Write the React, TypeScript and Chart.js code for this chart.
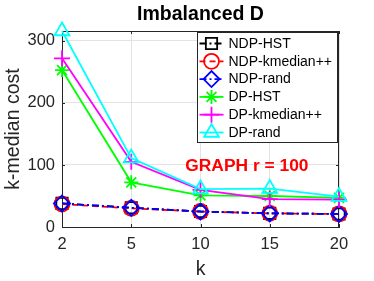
import React, { useEffect, useRef } from 'react';
import { Chart, registerables } from 'chart.js';
import { drawPoint } from 'chart.js/helpers';

Chart.register(...registerables);

const K_LABELS = ['2', '5', '10', '15', '20'];
const NDP_HST = [38, 31, 25, 22, 21];
const NDP_KMEDIAN = [37, 30, 25, 22, 21];
const NDP_RAND = [38, 31, 25, 22, 21];
const DP_HST = [253, 72, 51, 50, 47];
const DP_KMEDIAN = [272, 105, 60, 45, 44];
const DP_RAND = [316, 111, 61, 62, 49];
const Y_TICKS = [0, 100, 200, 300];
const Y_MIN = 0;
const Y_MAX = 316;
const TITLE = 'Imbalanced D';
const X_TITLE = 'k';
const Y_TITLE = 'k-median cost';
const NOTE_TEXT = 'GRAPH r = 100';
const NOTE_X = 2.67;
const NOTE_Y = 98;

const FONT = 'Liberation Sans, Arial, Helvetica, sans-serif';
const AXIS_COLOR = '#262626';

type Series = {
  name: string;
  data: number[];
  color: string;
  pointStyle: string;
  radius: number;
  dash: number[];
};

const SERIES: Series[] = [
  { name: 'NDP-HST', data: NDP_HST, color: '#000000', pointStyle: 'rect', radius: 8, dash: [7, 3, 2, 3] },
  { name: 'NDP-kmedian++', data: NDP_KMEDIAN, color: '#ff0000', pointStyle: 'circle', radius: 7.5, dash: [6, 4] },
  { name: 'NDP-rand', data: NDP_RAND, color: '#0000ff', pointStyle: 'rectRot', radius: 8, dash: [7, 3, 2, 3] },
  { name: 'DP-HST', data: DP_HST, color: '#00ff00', pointStyle: 'star', radius: 7, dash: [] },
  { name: 'DP-kmedian++', data: DP_KMEDIAN, color: '#ff00ff', pointStyle: 'cross', radius: 8, dash: [] },
  { name: 'DP-rand', data: DP_RAND, color: '#00ffff', pointStyle: 'triangle', radius: 8.5, dash: [] },
];

const LINE_W = 1.8;

const boxPlugin = {
  id: 'matlabBox',
  beforeDatasetsDraw(chart: any) {
    const { ctx, chartArea } = chart;
    const { left, right, top, bottom } = chartArea;
    ctx.save();
    ctx.strokeStyle = AXIS_COLOR;
    ctx.lineWidth = 1;
    ctx.beginPath();
    ctx.moveTo(left, top + 0.5);
    ctx.lineTo(right, top + 0.5);
    ctx.moveTo(right - 0.5, top);
    ctx.lineTo(right - 0.5, bottom);
    // inward ticks
    const xs = chart.scales.x;
    const ys = chart.scales.y;
    const tl = 3;
    K_LABELS.forEach((_, i) => {
      const px = Math.round(xs.getPixelForValue(i)) + 0.5;
      ctx.moveTo(px, bottom);
      ctx.lineTo(px, bottom - tl);
      ctx.moveTo(px, top);
      ctx.lineTo(px, top + tl);
    });
    Y_TICKS.forEach((v) => {
      const py = Math.round(ys.getPixelForValue(v)) + 0.5;
      ctx.moveTo(left, py);
      ctx.lineTo(left + tl, py);
      ctx.moveTo(right, py);
      ctx.lineTo(right - tl, py);
    });
    ctx.stroke();
    ctx.restore();
  },
};

const notePlugin = {
  id: 'note',
  afterDatasetsDraw(chart: any) {
    const { ctx } = chart;
    const x = chart.scales.x.getPixelForValue(NOTE_X);
    const y = chart.scales.y.getPixelForValue(NOTE_Y);
    ctx.save();
    ctx.font = `bold 17.4px ${FONT}`;
    ctx.fillStyle = '#ff0000';
    ctx.textAlign = 'center';
    ctx.textBaseline = 'middle';
    ctx.fillText(NOTE_TEXT, x, y);
    ctx.restore();
  },
};

const legendPlugin = {
  id: 'matlabLegend',
  afterDraw(chart: any) {
    const { ctx, chartArea } = chart;
    const w = 140;
    const h = 110;
    const left = Math.round(chartArea.right - 2 - w) + 0.5;
    const top = Math.round(chartArea.top + 1) + 0.5;
    ctx.save();
    ctx.fillStyle = '#ffffff';
    ctx.fillRect(left, top, w, h);
    ctx.strokeStyle = AXIS_COLOR;
    ctx.lineWidth = 1;
    ctx.strokeRect(left, top, w, h);
    const rowH = 17.8;
    SERIES.forEach((s, i) => {
      const y = top + 11 + i * rowH;
      ctx.strokeStyle = s.color;
      ctx.lineWidth = LINE_W;
      ctx.setLineDash(s.dash);
      ctx.beginPath();
      ctx.moveTo(left + 2, y);
      ctx.lineTo(left + 26, y);
      ctx.stroke();
      ctx.setLineDash([]);
      ctx.fillStyle = 'rgba(0,0,0,0)';
      drawPoint(ctx, { pointStyle: s.pointStyle as any, rotation: 0, radius: s.radius, borderWidth: LINE_W }, left + 14, y);
      ctx.fillStyle = '#000000';
      ctx.font = `14px ${FONT}`;
      ctx.textAlign = 'left';
      ctx.textBaseline = 'middle';
      ctx.fillText(s.name, left + 31, y + 0.5);
    });
    ctx.restore();
  },
};

export default function App() {
  const canvasRef = useRef<HTMLCanvasElement | null>(null);

  useEffect(() => {
    const canvas = canvasRef.current;
    if (!canvas) return;
    const chart = new Chart(canvas, {
      type: 'line',
      data: {
        labels: K_LABELS,
        datasets: SERIES.map((s, i) => ({
          label: s.name,
          data: s.data,
          borderColor: s.color,
          backgroundColor: 'rgba(0,0,0,0)',
          borderWidth: LINE_W,
          borderDash: s.dash,
          pointStyle: s.pointStyle as any,
          pointRadius: s.radius,
          pointBorderWidth: LINE_W,
          pointBorderColor: s.color,
          pointBackgroundColor: 'rgba(0,0,0,0)',
          tension: 0,
          fill: false,
          clip: false as any,
          order: SERIES.length - i,
        })),
      },
      options: {
        animation: false,
        responsive: false,
        maintainAspectRatio: false,
        events: [],
        layout: { padding: { top: 0, left: 0, right: 35, bottom: 0 } },
        plugins: {
          legend: { display: false },
          tooltip: { enabled: false },
          title: {
            display: true,
            text: TITLE,
            fullSize: false,
            color: '#000000',
            font: { family: FONT, size: 19.5, weight: 'bold', lineHeight: 1.2 },
            padding: { top: 3.3, bottom: 4.3 },
          },
        },
        scales: {
          x: {
            type: 'category',
            offset: false,
            grid: { display: true, color: '#e3e3e3', drawTicks: false, lineWidth: 1 },
            border: { display: true, color: AXIS_COLOR, width: 1 },
            ticks: {
              color: AXIS_COLOR,
              font: { family: FONT, size: 16.5, lineHeight: 1.2 },
              padding: 8,
              maxRotation: 0,
              autoSkip: false,
            },
            title: {
              display: true,
              text: X_TITLE,
              color: AXIS_COLOR,
              font: { family: FONT, size: 19.5, lineHeight: 1.2 },
              padding: { top: 1.3, bottom: 0 },
            },
            afterFit(scale: any) {
              scale.height = 54;
            },
          },
          y: {
            type: 'linear',
            min: Y_MIN,
            max: Y_MAX,
            grid: { display: true, color: '#e3e3e3', drawTicks: false, lineWidth: 1 },
            border: { display: true, color: AXIS_COLOR, width: 1 },
            ticks: {
              color: AXIS_COLOR,
              font: { family: FONT, size: 16.5, lineHeight: 1.2 },
              padding: 7,
            },
            afterBuildTicks(scale: any) {
              scale.ticks = Y_TICKS.map((v) => ({ value: v }));
            },
            title: {
              display: true,
              text: Y_TITLE,
              color: AXIS_COLOR,
              font: { family: FONT, size: 19.5, lineHeight: 1.2 },
              padding: { top: 1.8, bottom: 0 },
            },
            afterFit(scale: any) {
              scale.width = 62;
            },
          },
        },
      },
      plugins: [boxPlugin, notePlugin, legendPlugin],
    });
    return () => chart.destroy();
  }, []);

  return (
    <div style={{ position: 'fixed', left: 0, top: 0, width: 374, height: 281, background: '#ffffff' }}>
      <canvas ref={canvasRef} width={374} height={281} style={{ width: 374, height: 281, display: 'block' }} />
    </div>
  );
}
